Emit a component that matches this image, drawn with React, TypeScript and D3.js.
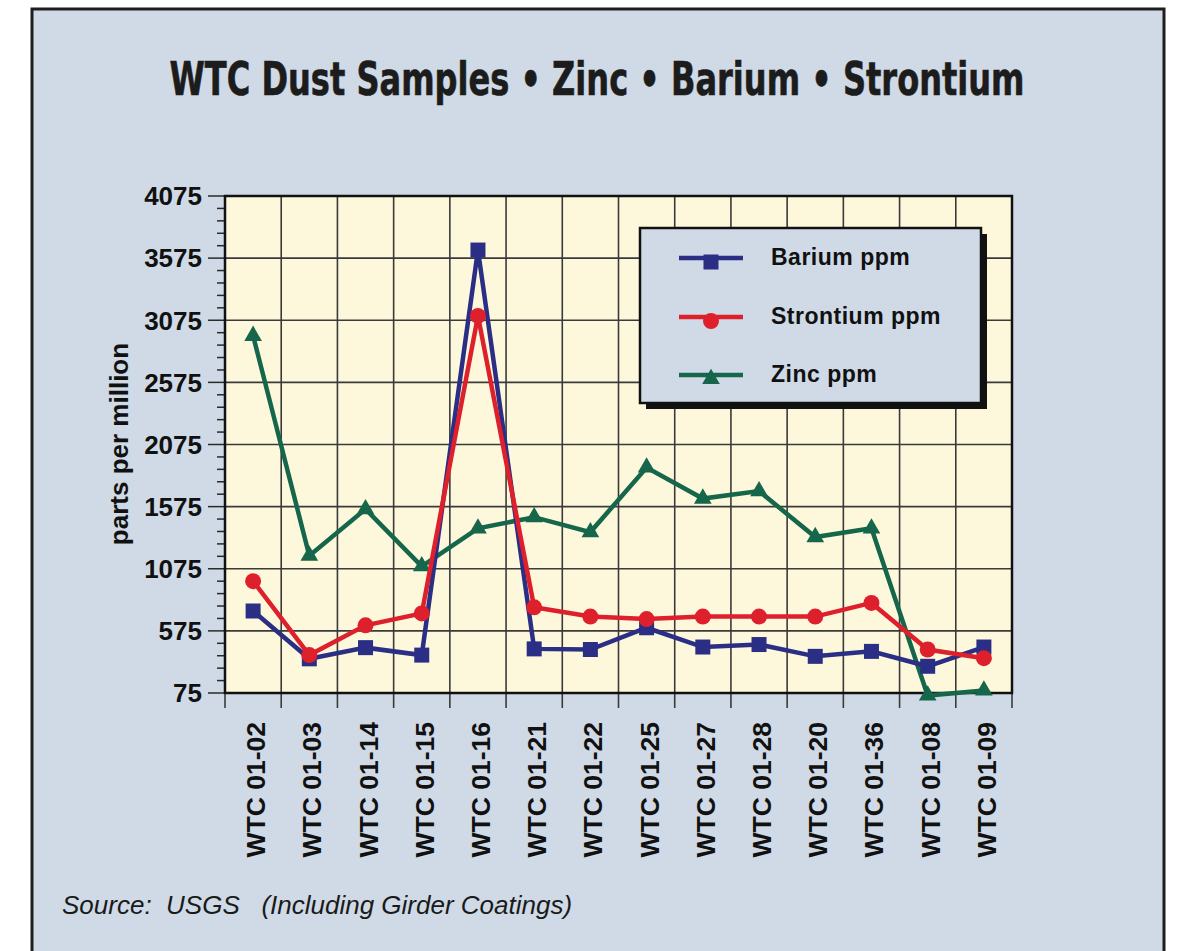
// App.tsx

import React, { useLayoutEffect, useRef, useState } from "react";
import * as d3 from "d3";

const samples = [
  "WTC 01-02", "WTC 01-03", "WTC 01-14", "WTC 01-15", "WTC 01-16", "WTC 01-21", "WTC 01-22",
  "WTC 01-25", "WTC 01-27", "WTC 01-28", "WTC 01-20", "WTC 01-36", "WTC 01-08", "WTC 01-09",
];

const bariumPpm = [735, 350, 440, 380, 3640, 430, 425, 600, 445, 465, 370, 410, 290, 445];
const strontiumPpm = [975, 380, 620, 715, 3110, 765, 690, 670, 690, 690, 690, 800, 425, 355];
const zincPpm = [2950, 1180, 1555, 1095, 1400, 1490, 1370, 1890, 1640, 1700, 1330, 1400, 55, 95];

const yTicks = [75, 575, 1075, 1575, 2075, 2575, 3075, 3575, 4075];

const seriesNames = ["Barium ppm", "Strontium ppm", "Zinc ppm"];
const seriesColors = ["#2a2e84", "#de1f2c", "#15664a"];

const W = 1180;
const H = 951;
const plot = { left: 225, right: 1012, top: 196, bottom: 693 };
const font = "'Liberation Sans', Arial, Helvetica, sans-serif";
const titleWidth = 855;

const App: React.FC = () => {
  const titleRef = useRef<SVGTextElement>(null);
  const [titleScale, setTitleScale] = useState(0.76);

  // squeeze the title horizontally so it spans the same width as the condensed original
  useLayoutEffect(() => {
    if (titleRef.current) {
      const w = titleRef.current.getComputedTextLength();
      if (w > 0) setTitleScale(titleWidth / w);
    }
  }, []);

  const x = d3.scaleBand().domain(samples).range([plot.left, plot.right]).padding(0);
  const y = d3.scaleLinear().domain([75, 4075]).range([plot.bottom, plot.top]);
  const cx = (s: string) => (x(s) as number) + x.bandwidth() / 2;

  const minorTicks = d3.range(75, 4075, 100).filter((v) => !yTicks.includes(v));
  const boundaries = samples.map((s) => x(s) as number).concat([plot.right]);

  const line = d3
    .line<number>()
    .x((d, i) => cx(samples[i]))
    .y((d) => y(d));

  const symbols = [
    d3.symbol().type(d3.symbolSquare).size(225)(),
    d3.symbol().type(d3.symbolCircle).size(200)(),
    d3.symbol().type(d3.symbolTriangle).size(135)(),
  ];
  const allSeries = [bariumPpm, strontiumPpm, zincPpm];
  const drawOrder = [2, 0, 1];

  const legend = { x: 640, y: 228, w: 341, h: 175 };
  const legendRows = [258, 317, 375];

  return (
    <div style={{ position: "absolute", left: 0, top: 0 }}>
      <svg width={W} height={H} style={{ display: "block" }}>
        <rect x={0} y={0} width={W} height={H} fill="#ffffff" />
        {/* frame */}
        <rect x={32} y={9} width={1132} height={H + 20} fill="#cfdae6" stroke="#1e1e1e" strokeWidth={3} />

        <g transform={`translate(597, 95) scale(${titleScale}, 1)`}>
          <text
            ref={titleRef}
            x={0}
            y={0}
            textAnchor="middle"
            fontFamily="'DejaVu Sans', sans-serif"
            fontWeight="bold"
            fontSize={46}
            fill="#1c1c1c"
            stroke="#1c1c1c"
            strokeWidth={0.7}
          >
            WTC Dust Samples • Zinc • Barium • Strontium
          </text>
        </g>

        {/* plot background */}
        <rect
          x={plot.left}
          y={plot.top}
          width={plot.right - plot.left}
          height={plot.bottom - plot.top}
          fill="#fdf8dc"
        />

        {/* grid */}
        <g stroke="#3a3a3a" strokeWidth={1.6}>
          {yTicks.map((t) => (
            <line key={"h" + t} x1={plot.left} x2={plot.right} y1={y(t)} y2={y(t)} />
          ))}
          {boundaries.map((b, i) => (
            <line key={"v" + i} x1={b} x2={b} y1={plot.top} y2={plot.bottom} />
          ))}
        </g>

        {/* y axis ticks */}
        <g stroke="#2a2a2a" strokeWidth={1.5}>
          {yTicks.map((t) => (
            <line key={"mt" + t} x1={208} x2={plot.left} y1={y(t)} y2={y(t)} />
          ))}
          {minorTicks.map((t) => (
            <line key={"nt" + t} x1={217} x2={plot.left} y1={y(t)} y2={y(t)} />
          ))}
        </g>
        {/* x axis ticks */}
        <g stroke="#3a3a3a" strokeWidth={1.6}>
          {boundaries.map((b, i) => (
            <line key={"xt" + i} x1={b} x2={b} y1={plot.bottom} y2={plot.bottom + 15} />
          ))}
        </g>

        <rect
          x={plot.left}
          y={plot.top}
          width={plot.right - plot.left}
          height={plot.bottom - plot.top}
          fill="none"
          stroke="#111"
          strokeWidth={2.5}
        />

        {yTicks.map((t) => (
          <text
            key={"yl" + t}
            x={202}
            y={y(t)}
            dy="0.36em"
            textAnchor="end"
            fontFamily={font}
            fontWeight="bold"
            fontSize={26}
            fill="#111"
          >
            {t}
          </text>
        ))}

        <text
          transform="translate(128, 444) rotate(-90)"
          textAnchor="middle"
          fontFamily={font}
          fontWeight="bold"
          fontSize={26}
          fill="#111"
        >
          parts per million
        </text>

        {samples.map((s) => (
          <text
            key={"xl" + s}
            transform={`translate(${cx(s) + 12}, 722) rotate(-90)`}
            textAnchor="end"
            fontFamily={font}
            fontWeight="bold"
            fontSize={26.5}
            fill="#111"
          >
            {s}
          </text>
        ))}

        {/* series */}
        {drawOrder.map((k) => (
          <g key={"s" + k}>
            <path
              d={line(allSeries[k]) || ""}
              fill="none"
              stroke={seriesColors[k]}
              strokeWidth={4.5}
              strokeLinejoin="miter"
            />
            {allSeries[k].map((v, i) => (
              <path
                key={i}
                d={symbols[k] || ""}
                transform={`translate(${cx(samples[i])}, ${y(v)})`}
                fill={seriesColors[k]}
              />
            ))}
          </g>
        ))}

        {/* legend */}
        <rect x={legend.x + 6} y={legend.y + 6} width={legend.w} height={legend.h} fill="#111" />
        <rect
          x={legend.x}
          y={legend.y}
          width={legend.w}
          height={legend.h}
          fill="#cfdae6"
          stroke="#111"
          strokeWidth={2.5}
        />
        {seriesNames.map((name, k) => (
          <g key={"lg" + k}>
            <line
              x1={679}
              x2={743}
              y1={legendRows[k]}
              y2={legendRows[k]}
              stroke={seriesColors[k]}
              strokeWidth={4.5}
            />
            <path
              d={symbols[k] || ""}
              transform={`translate(711, ${legendRows[k] + 4})`}
              fill={seriesColors[k]}
            />
            <text
              x={771}
              y={legendRows[k] + 7}
              fontFamily={font}
              fontWeight="bold"
              fontSize={23}
              letterSpacing={0.5}
              fill="#111"
            >
              {name}
            </text>
          </g>
        ))}

        <text
          x={62}
          y={914}
          fontFamily={font}
          fontStyle="italic"
          fontSize={26}
          fill="#1a1a1a"
          style={{ whiteSpace: "pre" }}
        >
          {"Source:  USGS   (Including Girder Coatings)"}
        </text>
      </svg>
    </div>
  );
};

export default App;
